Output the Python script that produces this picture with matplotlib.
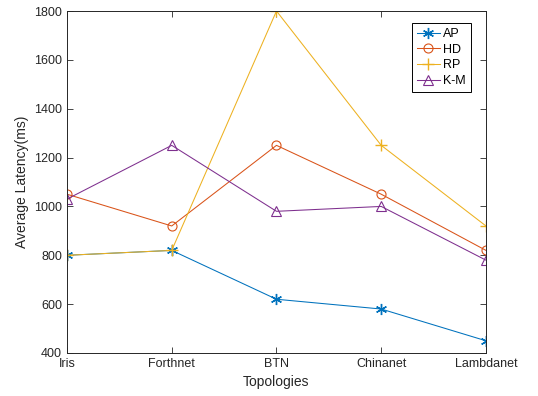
import matplotlib
matplotlib.use("Agg")
import matplotlib.pyplot as plt

plt.rcParams['font.family'] = ['Liberation Sans', 'DejaVu Sans']

# Andmed
topologies = ["Iris", "Forthnet", "BTN", "Chinanet", "Lambdanet"]
ap = [800, 820, 620, 580, 450]
hd = [1050, 920, 1250, 1050, 820]
rp = [800, 820, 1800, 1250, 920]
km = [1030, 1250, 980, 1000, 780]

x = list(range(len(topologies)))

fig = plt.figure(figsize=(5.38, 3.96), dpi=100)
ax = fig.add_axes([0.1245, 0.1086, 0.7788, 0.8636])

# MATLAB-i stiilis asterisk marker
asterisk = (6, 2, 0)

ax.plot(x, ap, color="#0072BD", marker=asterisk, markersize=8,
        linewidth=0.75, label="AP")
ax.plot(x, hd, color="#D95319", marker="o", markersize=6.5, markerfacecolor="none",
        markeredgewidth=0.8, linewidth=0.75, label="HD")
ax.plot(x, rp, color="#EDB120", marker="+", markersize=8,
        linewidth=0.75, label="RP")
ax.plot(x, km, color="#7E2F8E", marker="^", markersize=6.5, markerfacecolor="none",
        markeredgewidth=0.8, linewidth=0.75, label="K-M")

ax.set_xlim(0, 4)
ax.set_ylim(400, 1800)
ax.set_xticks(x)
ax.set_xticklabels(topologies)
ax.set_yticks(range(400, 1801, 200))
ax.tick_params(direction="in", top=True, right=True, labelsize=9, colors="#262626",
               length=4, width=0.6)
for s in ax.spines.values():
    s.set_linewidth(0.7)
    s.set_color("#262626")

ax.set_xlabel("Topologies", fontsize=10, color="#262626")
ax.set_ylabel("Average Latency(ms)", fontsize=10, color="#262626")

leg = ax.legend(loc="upper right", bbox_to_anchor=(0.964, 0.965), borderaxespad=0,
                fontsize=9, fancybox=False, edgecolor="black", framealpha=1,
                handlelength=1.8, borderpad=0.4, labelspacing=0.3, handletextpad=0.3)
leg.get_frame().set_linewidth(0.7)

fig.savefig("out.png", dpi=100)
